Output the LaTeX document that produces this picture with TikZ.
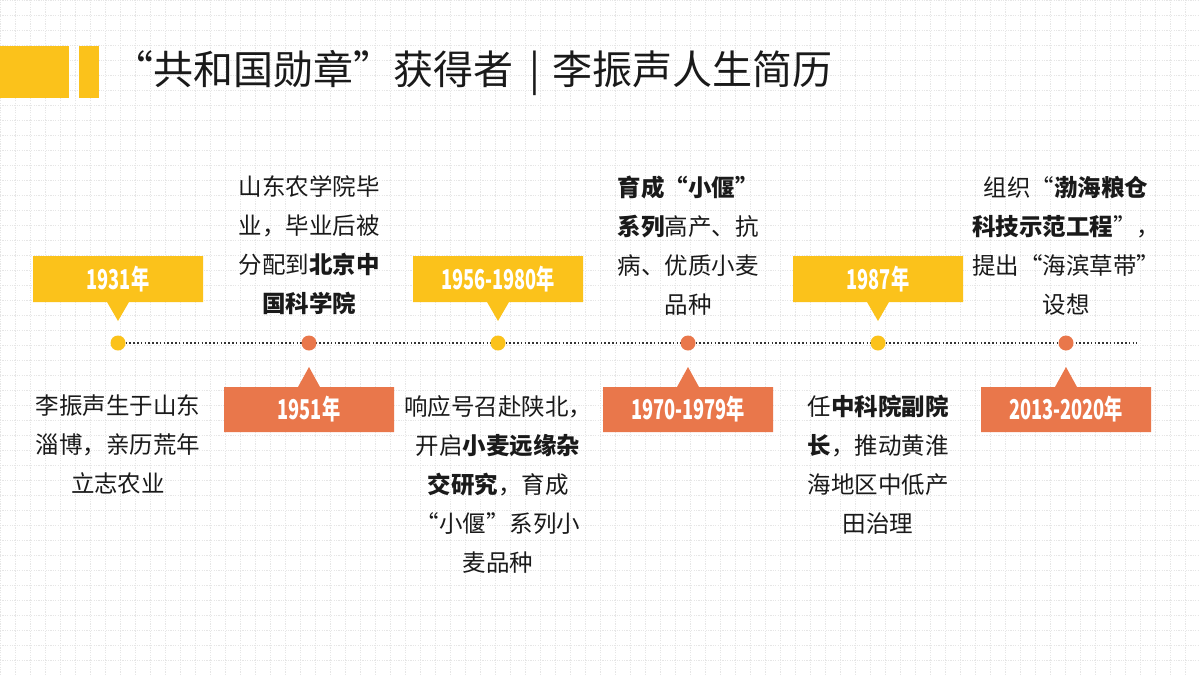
\documentclass[tikz,border=0pt]{standalone}
\usepackage{fontspec}
\setmainfont{Noto Sans CJK SC}
\definecolor{yel}{HTML}{FBC21B}
\definecolor{org}{HTML}{E9774B}
\definecolor{ink}{HTML}{1A1A1A}
\definecolor{gridc}{HTML}{E6E6E6}
\tikzset{
  yearlab/.style={text=white,font=\fontsize{26}{30}\selectfont\bfseries,inner sep=0pt},
  desc/.style={text=ink,align=center,font=\fontsize{23.5}{39}\selectfont,inner sep=0pt},
  tdot/.style={circle,inner sep=0pt,minimum size=15pt},
  tline/.style={line width=1.6pt,dash pattern=on 1.6pt off 2.2pt,draw=black!80}
}
\begin{document}
\begin{tikzpicture}[x=1pt,y=-1pt]
\useasboundingbox (0,0) rectangle (1200,675);
\fill[white] (0,0) rectangle (1200,675);
\draw[gridc,line width=0.6pt,dash pattern=on 1.2pt off 1.2pt] (0,0) grid[step=15pt] (1200,675);
% title bars
\fill[yel] (0,46) rectangle (69,98);
\fill[yel] (79,46) rectangle (99,98);
\node[anchor=west,text=ink,font=\fontsize{40}{44}\selectfont,inner sep=0pt] (title) at (113,73) {“共和国勋章”获得者\hspace{16pt}|\hspace{12pt}李振声人生简历};
% timeline
\coordinate (tend) at (1137,343);
\node[tdot] (d1) at (118,343) {};
\draw[tline] (d1.center) -- (tend);
\node[tdot,fill=yel] (d1) at (118,343) {};
\node[tdot,fill=org] (d2) at (309,343) {};
\node[tdot,fill=yel] (d3) at (498,343) {};
\node[tdot,fill=org] (d4) at (688,343) {};
\node[tdot,fill=yel] (d5) at (878,343) {};
\node[tdot,fill=org] (d6) at (1066,343) {};
% upper callouts (yellow)
\foreach \x/\lab/\n in {118/1931年/a,498/1956-1980年/c,878/1987年/e}{
  \fill[yel] (\x-85,256) -- (\x+85,256) -- (\x+85,302) -- (\x+11,302) -- (\x,321) -- (\x-11,302) -- (\x-85,302) -- cycle;
  \node[yearlab] (y\n) at (\x,279) {\scalebox{0.7}[1.05]{\lab}};
}
% lower callouts (orange)
\foreach \x/\lab/\n in {309/1951年/b,688/1970-1979年/d,1066/2013-2020年/f}{
  \fill[org] (\x-85,387) -- (\x-11,387) -- (\x,367) -- (\x+11,387) -- (\x+85,387) -- (\x+85,432) -- (\x-85,432) -- cycle;
  \node[yearlab] (y\n) at (\x,409) {\scalebox{0.7}[1.05]{\lab}};
}
% descriptions
\node[desc] (t1) at (118,445) {李振声生于山东\\淄博，亲历荒年\\立志农业};
\node[desc] (t2) at (309,245.5) {山东农学院毕\\业，毕业后被\\分配到\textbf{北京中}\\\textbf{国科学院}};
\node[desc] (t3) at (498,484.5) {响应号召赴陕北，\\开启\textbf{小麦远缘杂}\\\textbf{交研究}，育成\\“小偃”系列小\\麦品种};
\node[desc] (t4) at (688,245.5) {\textbf{育成“小偃”}\\\textbf{系列}高产、抗\\病、优质小麦\\品种};
\node[desc] (t5) at (878,464.5) {任\textbf{中科院副院}\\\textbf{长}，推动黄淮\\海地区中低产\\田治理};
\node[desc] (t6) at (1066,245.5) {组织“\textbf{渤海粮仓}\\\textbf{科技示范工程}”，\\提出“海滨草带”\\设想};
\end{tikzpicture}
\end{document}
